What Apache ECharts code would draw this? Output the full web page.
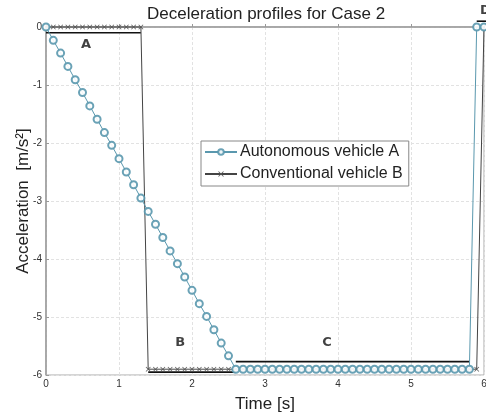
<!DOCTYPE html>
<html>
<head>
<meta charset="utf-8">
<script src="https://cdn.jsdelivr.net/npm/echarts@6/dist/echarts.min.js"></script>
<style>
  html, body { margin: 0; padding: 0; background: #fff; }
  #chart { width: 486px; height: 417px; }
</style>
</head>
<body>
<div id="chart"></div>
<script>
// time samples [s]
const time = [0, 0.1, 0.2, 0.3, 0.4, 0.5, 0.6, 0.7, 0.8, 0.9,
  1.0, 1.1, 1.2, 1.3, 1.4, 1.5, 1.6, 1.7, 1.8, 1.9,
  2.0, 2.1, 2.2, 2.3, 2.4, 2.5, 2.6, 2.7, 2.8, 2.9,
  3.0, 3.1, 3.2, 3.3, 3.4, 3.5, 3.6, 3.7, 3.8, 3.9,
  4.0, 4.1, 4.2, 4.3, 4.4, 4.5, 4.6, 4.7, 4.8, 4.9,
  5.0, 5.1, 5.2, 5.3, 5.4, 5.5, 5.6, 5.7, 5.8, 5.9, 6.0];

// Autonomous vehicle A
const accelA = [0, -0.23, -0.45, -0.68, -0.91, -1.13, -1.36, -1.59, -1.82, -2.04,
  -2.27, -2.50, -2.72, -2.95, -3.18, -3.40, -3.63, -3.86, -4.08, -4.31,
  -4.54, -4.77, -4.99, -5.22, -5.45, -5.67, -5.90, -5.90, -5.90, -5.90,
  -5.90, -5.90, -5.90, -5.90, -5.90, -5.90, -5.90, -5.90, -5.90, -5.90,
  -5.90, -5.90, -5.90, -5.90, -5.90, -5.90, -5.90, -5.90, -5.90, -5.90,
  -5.90, -5.90, -5.90, -5.90, -5.90, -5.90, -5.90, -5.90, -5.90, 0, 0];

// Conventional vehicle B
const accelB = [0, 0, 0, 0, 0, 0, 0, 0, 0, 0,
  0, 0, 0, 0, -5.90, -5.90, -5.90, -5.90, -5.90, -5.90,
  -5.90, -5.90, -5.90, -5.90, -5.90, -5.90, -5.90, -5.90, -5.90, -5.90,
  -5.90, -5.90, -5.90, -5.90, -5.90, -5.90, -5.90, -5.90, -5.90, -5.90,
  -5.90, -5.90, -5.90, -5.90, -5.90, -5.90, -5.90, -5.90, -5.90, -5.90,
  -5.90, -5.90, -5.90, -5.90, -5.90, -5.90, -5.90, -5.90, -5.90, -5.90, 0];

// phase brackets and their labels
const bracketA = [[0, -0.1], [1.3, -0.1]];
const bracketB = [[1.4, -5.95], [2.6, -5.95]];
const bracketC = [[2.6, -5.77], [5.8, -5.77]];
const bracketD = [[5.9, 0.1], [6.05, 0.1]];
const phaseLabels = [["A", 0.55, -0.3], ["B", 1.84, -5.45], ["C", 3.85, -5.44], ["D", 6.02, 0.29]];

const xTicks = [0, 1, 2, 3, 4, 5, 6];

const pairs = (ys) => time.map((t, i) => [t, ys[i]]);

const crossPath = "path://M0,1L1,0L5,4L9,0L10,1L6,5L10,9L9,10L5,6L1,10L0,9L4,5Z";
const font = "Liberation Sans, Arial, sans-serif";

const bracket = (data) => ({
  type: "line",
  data: data,
  symbol: "none",
  silent: true,
  clip: false,
  z: 1,
  lineStyle: { color: "#111", width: 1.6 },
});

const chart = echarts.init(document.getElementById("chart"), null, { renderer: "canvas" });

chart.setOption({
  animation: false,
  backgroundColor: "#fff",
  textStyle: { fontFamily: font },
  title: {
    text: "Deceleration profiles for Case 2",
    left: 142,
    top: 1,
    textStyle: { fontFamily: font, fontSize: 17, fontWeight: "normal", color: "#222" },
  },
  grid: {
    left: 46, right: 2, top: 27, bottom: 42,
    outerBoundsMode: "none",
    show: true, borderColor: "#aaa", borderWidth: 1,
  },
  legend: {
    orient: "vertical",
    left: 201,
    top: 141,
    padding: [3, 6, 4, 3],
    itemGap: 6,
    itemWidth: 32,
    itemHeight: 7,
    backgroundColor: "#fff",
    borderColor: "#888",
    borderWidth: 1,
    borderRadius: 0,
    data: ["Autonomous vehicle A", "Conventional vehicle B"],
    textStyle: { fontFamily: font, fontSize: 16, color: "#222", padding: [0, 0, 0, -2] },
  },
  xAxis: {
    type: "value",
    min: 0,
    max: 6,
    interval: 1,
    name: "Time [s]",
    nameLocation: "middle",
    nameGap: 21,
    nameMoveOverlap: false,
    nameTextStyle: { fontFamily: font, fontSize: 17, color: "#222" },
    axisLine: { lineStyle: { color: "#999", width: 1.5 } },
    axisTick: { inside: true, length: 3, lineStyle: { color: "#999" } },
    axisLabel: { fontSize: 10, color: "#333", margin: 4,
      formatter: (v) => (xTicks.includes(v) ? String(v) : "") },
    splitLine: { show: true, lineStyle: { color: "#e2e2e2", type: [3, 2] } },
  },
  yAxis: {
    type: "value",
    min: -6,
    max: 0,
    interval: 1,
    name: "Acceleration  [m/s²]",
    nameLocation: "middle",
    nameGap: 14,
    nameMoveOverlap: false,
    nameTextStyle: { fontFamily: font, fontSize: 17, color: "#222" },
    axisLine: { lineStyle: { color: "#999", width: 1.5 } },
    axisTick: { inside: true, length: 3, lineStyle: { color: "#999" } },
    axisLabel: { fontSize: 10, color: "#333", margin: 4 },
    splitLine: { show: true, lineStyle: { color: "#e2e2e2", type: [3, 2] } },
  },
  series: [
    bracket(bracketA),
    bracket(bracketB),
    bracket(bracketC),
    bracket(bracketD),
    {
      name: "Conventional vehicle B",
      type: "line",
      data: pairs(accelB),
      symbol: crossPath,
      symbolSize: 5,
      clip: false,
      z: 3,
      lineStyle: { color: "#444", width: 1 },
      itemStyle: { color: "#555" },
    },
    {
      name: "Autonomous vehicle A",
      type: "line",
      data: pairs(accelA),
      symbol: "emptyCircle",
      symbolSize: 7,
      clip: false,
      z: 4,
      lineStyle: { color: "#5a98ae", width: 1 },
      itemStyle: { color: "#5a98ae", borderWidth: 0.8, opacity: 0.9 },
    },
    {
      type: "scatter",
      data: phaseLabels.map((p) => ({ name: p[0], value: [p[1], p[2]] })),
      symbolSize: 0,
      silent: true,
      clip: false,
      z: 5,
      label: {
        show: true,
        position: "inside",
        formatter: (p) => p.name,
        fontFamily: "DejaVu Sans, sans-serif",
        fontWeight: "bold",
        fontSize: 13,
        color: "#111",
      },
    },
  ],
});
</script>
</body>
</html>
